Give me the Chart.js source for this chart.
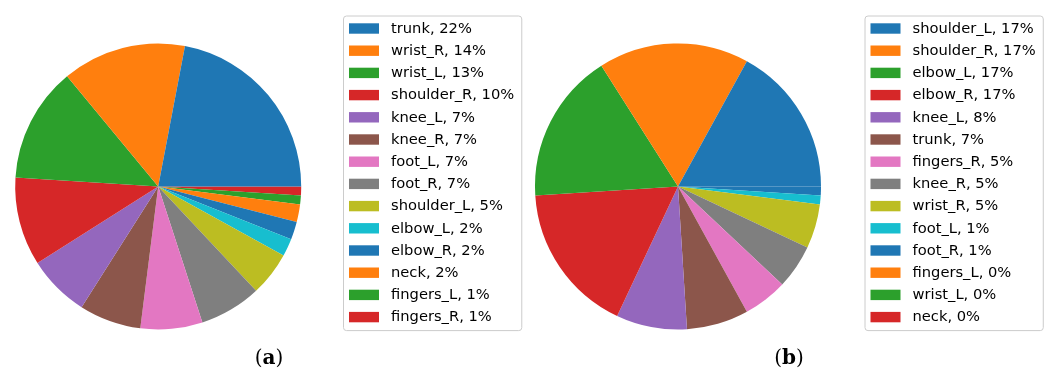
<!DOCTYPE html>
<html>
<head>
<meta charset="utf-8">
<script src="https://cdn.jsdelivr.net/npm/chart.js@4/dist/chart.umd.min.js"></script>
<style>
  html, body { margin: 0; padding: 0; background: #fff; }
  body { width: 1051px; height: 372px; position: relative; overflow: hidden; }
  canvas { position: absolute; top: 0; }
  #pie_a { left: 0; }
  #pie_b { left: 525px; }
  .caption {
    position: absolute; top: 345px; width: 80px; margin-left: -40px; line-height: 24px;
    text-align: center; font-family: "DejaVu Serif", serif; font-size: 20px; color: #000;
  }
</style>
</head>
<body>
<canvas id="pie_a" width="530" height="372"></canvas>
<canvas id="pie_b" width="526" height="372"></canvas>
<div class="caption" style="left:269px">(<b>a</b>)</div>
<div class="caption" style="left:789px">(<b>b</b>)</div>
<script>
// joints and their share of the total, in legend order
const jointsA = ['trunk', 'wrist_R', 'wrist_L', 'shoulder_R', 'knee_L', 'knee_R', 'foot_L',
                 'foot_R', 'shoulder_L', 'elbow_L', 'elbow_R', 'neck', 'fingers_L', 'fingers_R'];
const sharesA = [22, 14, 13, 10, 7, 7, 7, 7, 5, 2, 2, 2, 1, 1];

const jointsB = ['shoulder_L', 'shoulder_R', 'elbow_L', 'elbow_R', 'knee_L', 'trunk', 'fingers_R',
                 'knee_R', 'wrist_R', 'foot_L', 'foot_R', 'fingers_L', 'wrist_L', 'neck'];
const sharesB = [17, 17, 17, 17, 8, 7, 5, 5, 5, 1, 1, 0, 0, 0];

const tab10 = ['#1f77b4', '#ff7f0e', '#2ca02c', '#d62728', '#9467bd',
               '#8c564b', '#e377c2', '#7f7f7f', '#bcbd22', '#17becf'];

const legendFont = '14.7px "DejaVu Sans"';
const rowStep = 22.2;

// framed legend on the right, listed in the original (non reversed) order
const boxLegend = {
  id: 'boxLegend',
  afterDraw(chart, args, opts) {
    const ctx = chart.ctx;
    const ds = chart.data.datasets[0];
    const n = chart.data.labels.length;
    const items = [];
    for (let i = n - 1; i >= 0; i--) {
      items.push({ text: chart.data.labels[i] + ', ' + ds.data[i] + '%', color: ds.backgroundColor[i] });
    }
    ctx.save();
    ctx.font = legendFont;
    const textW = Math.max(...items.map(it => ctx.measureText(it.text).width));
    const w = 48 + textW + 7;
    const h = 26 + (n - 1) * rowStep;
    ctx.beginPath();
    ctx.roundRect(opts.x + 0.5, opts.y + 0.5, w, h, 3);
    ctx.fillStyle = 'rgba(255,255,255,0.8)';
    ctx.fill();
    ctx.strokeStyle = '#cccccc';
    ctx.lineWidth = 1;
    ctx.stroke();
    ctx.textBaseline = 'middle';
    items.forEach((it, i) => {
      const cy = opts.y + 13 + i * rowStep;
      ctx.fillStyle = it.color;
      ctx.fillRect(opts.x + 6, cy - 5.2, 30, 10.4);
      ctx.fillStyle = '#000';
      ctx.fillText(it.text, opts.x + 48, cy + 0.5);
    });
    ctx.restore();
  }
};

// matplotlib draws wedges counter-clockwise from 3 o'clock; Chart.js goes clockwise,
// so feed the slices in reverse and start at 90 degrees
const makePie = (id, joints, shares, padRight, legendX) => {
  const colors = joints.map((_, i) => tab10[i % tab10.length]);
  return new Chart(document.getElementById(id), {
    type: 'pie',
    data: {
      labels: joints.slice().reverse(),
      datasets: [{
        data: shares.slice().reverse(),
        backgroundColor: colors.slice().reverse(),
        borderWidth: 0,
        radius: 143
      }]
    },
    options: {
      responsive: false,
      animation: false,
      rotation: 90,
      events: [],
      layout: { padding: { left: 0, right: padRight, top: 1, bottom: 0 } },
      plugins: {
        legend: { display: false },
        tooltip: { enabled: false },
        boxLegend: { x: legendX, y: 15.5 }
      }
    },
    plugins: [boxLegend]
  });
};

makePie('pie_a', jointsA, sharesA, 213.6, 343);
makePie('pie_b', jointsB, sharesB, 220, 339.5);
</script>
</body>
</html>
